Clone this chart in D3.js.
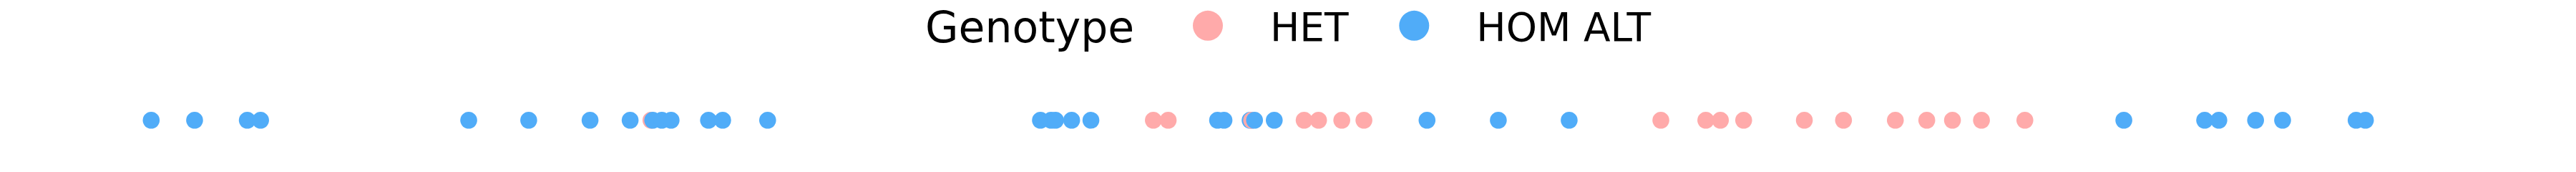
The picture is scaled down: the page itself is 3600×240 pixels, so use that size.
<!DOCTYPE html>
<html>
<head>
<meta charset="utf-8">
<script src="https://cdn.jsdelivr.net/npm/d3@7"></script>
<style>
    body { margin: 0; background: #fff; }
    svg { display: block; font-family: "DejaVu Sans", sans-serif; }
</style>
</head>
<body>
<svg id="chart" width="3600" height="240"></svg>
<script>
const width = 3600;
const height = 240;

// Variant positions (relative units), in order along the track
const positions = [
    0, 19.6, 43.4, 49.4, 143.4, 170.5, 198.2, 216.3, 225.7, 226.5,
    230.6, 234.8, 251.7, 258.1, 278.4, 401.6, 406.4, 408.4, 415.7, 424.4,
    452.6, 459.3, 481.6, 484.5, 496.3, 497.0, 498.3, 507.2, 520.7, 527.2,
    537.7, 547.7, 576.2, 608.4, 640.4, 681.8, 702.1, 708.7, 719.2, 746.6,
    764.3, 787.7, 801.9, 813.5, 826.6, 846.2, 890.9, 927.4, 933.8, 950.4,
    962.6, 995.8, 1000
];
const genotypes = [
    "HOM ALT", "HOM ALT", "HOM ALT", "HOM ALT", "HOM ALT", "HOM ALT", "HOM ALT", "HOM ALT", "HET", "HOM ALT",
    "HOM ALT", "HOM ALT", "HOM ALT", "HOM ALT", "HOM ALT", "HOM ALT", "HOM ALT", "HOM ALT", "HOM ALT", "HOM ALT",
    "HET", "HET", "HOM ALT", "HOM ALT", "HOM ALT", "HET", "HOM ALT", "HOM ALT", "HET", "HET",
    "HET", "HET", "HOM ALT", "HOM ALT", "HOM ALT", "HET", "HET", "HET", "HET", "HET",
    "HET", "HET", "HET", "HET", "HET", "HET", "HOM ALT", "HOM ALT", "HOM ALT", "HOM ALT",
    "HOM ALT", "HOM ALT", "HOM ALT"
];
const categories = ["HET", "HOM ALT"];
const legendTitle = "Genotype";

// Colour
const color = d3.scaleOrdinal()
    .domain(categories)
    .range(["#ffaaaa", "#50acf8"]);

const svg = d3.select("#chart");

const x = d3.scaleLinear()
    .domain([0, 1000])
    .range([211.3, 3305.7]);

const y = d3.scalePoint()
    .domain(["track"])
    .range([167.8, 167.8]);

const data = positions.map((p, i) => ({ pos: p, genotype: genotypes[i] }));

// Points
svg.append("g")
    .selectAll("circle")
    .data(data)
    .enter().append("circle")
    .attr("cx", d => x(d.pos))
    .attr("cy", y("track"))
    .attr("r", 11.8)
    .attr("fill", d => color(d.genotype));

// Legend
const legend = svg.append("g").attr("class", "legend");

legend.append("text")
    .attr("x", 1293)
    .attr("y", 59)
    .attr("font-size", 60)
    .attr("fill", "#000")
    .text(legendTitle);

const itemX = { "HET": 1688, "HOM ALT": 1976.3 };

const item = legend.selectAll("g.item")
    .data(categories)
    .enter().append("g")
    .attr("class", "item")
    .attr("transform", d => `translate(${itemX[d]},0)`);

item.append("circle")
    .attr("cx", 0)
    .attr("cy", 35.8)
    .attr("r", 21)
    .attr("fill", d => color(d));

item.append("text")
    .attr("x", 87)
    .attr("y", 57)
    .attr("font-size", 55)
    .attr("fill", "#000")
    .text(d => d);
</script>
</body>
</html>
